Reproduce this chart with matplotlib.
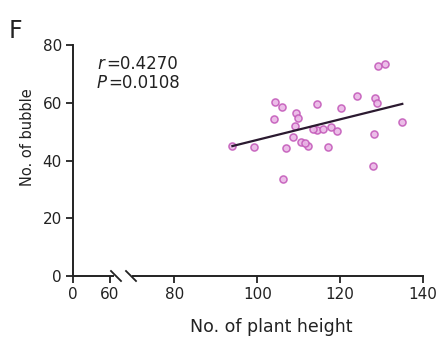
import numpy as np
import matplotlib
matplotlib.use("Agg")
import matplotlib.pyplot as plt

plt.rcParams['font.family'] = ['DejaVu Sans']

# plant height vs number of bubbles
height = [93.9, 99.1, 104.2, 106.0, 104.0, 109.4, 109.8, 109.0, 107.0, 110.6,
          112.3, 114.3, 114.3, 115.9, 117.1, 117.9, 119.3, 120.2, 124.0, 128.4,
          128.8, 128.2, 128.0, 129.2, 130.8, 135.0, 106.2, 111.5, 108.5, 113.5]
bubbles = [45.0, 44.8, 60.4, 58.6, 54.3, 56.6, 54.6, 51.9, 44.2, 46.5,
           45.0, 59.6, 50.6, 50.8, 44.8, 51.5, 50.3, 58.1, 62.3, 61.5,
           60.0, 49.2, 38.1, 72.7, 73.4, 53.3, 33.5, 46.0, 48.0, 51.0]
fit_x = [94, 135]
fit_y = [45.0, 59.6]
r_text = "0.4270"
p_text = "0.0108"

W, H = 436, 339
fig = plt.figure(figsize=(W / 100, H / 100), dpi=100)
bot = 1 - 276 / H
hgt = (276 - 45) / H
ax1 = fig.add_axes([73 / W, bot, 39.5 / W, hgt])
ax2 = fig.add_axes([133 / W, bot, 290 / W, hgt], sharey=ax1)

ink = '#222222'
for ax in (ax1, ax2):
    ax.spines['top'].set_visible(False)
    ax.spines['right'].set_visible(False)
    for s in ax.spines.values():
        s.set_linewidth(1.4)
        s.set_color(ink)
    ax.tick_params(direction='out', length=5, width=1.3, colors=ink,
                   labelsize=11, pad=3)
    ax.patch.set_alpha(0)
ax2.spines['left'].set_visible(False)
ax2.tick_params(axis='y', left=False, labelleft=False)

ax1.set_xlim(0, 64)
ax1.set_xticks([0, 60])
ax1.set_ylim(0, 80)
ax1.set_yticks([0, 20, 40, 60, 80])
ax2.set_xlim(70, 140)
ax2.set_xticks([80, 100, 120, 140])

ax2.scatter(height, bubbles, s=26, facecolor='#eab6e6', edgecolor='#c45cba',
            linewidth=1.1, alpha=0.9, zorder=3)
ax2.plot(fit_x, fit_y, color='#2b1a30', linewidth=1.6, zorder=4)

# break marks on x axis
for x0 in (111, 126):
    fig.add_artist(plt.Line2D([x0 / W, (x0 + 10) / W],
                              [1 - 271 / H, 1 - 281 / H],
                              color=ink, linewidth=1.3))

fig.text(28 / W, 1 - 137 / H, 'No. of bubble', fontsize=10.5, rotation=90,
         ha='center', va='center', color=ink)
fig.text(271 / W, 1 - 327 / H, 'No. of plant height', fontsize=12.5,
         ha='center', va='center', color=ink)
fig.text(9 / W, 1 - 31 / H, 'F', fontsize=17, ha='left', va='center',
         color=ink)
fig.text(97 / W, 1 - 64 / H, 'r', fontsize=12, style='italic',
         ha='left', va='center', color=ink)
fig.text(106 / W, 1 - 64 / H, '=' + r_text, fontsize=12,
         ha='left', va='center', color=ink)
fig.text(97 / W, 1 - 83 / H, 'P', fontsize=12, style='italic',
         ha='left', va='center', color=ink)
fig.text(108 / W, 1 - 83 / H, '=' + p_text, fontsize=12,
         ha='left', va='center', color=ink)

fig.savefig('out.png', dpi=100)
